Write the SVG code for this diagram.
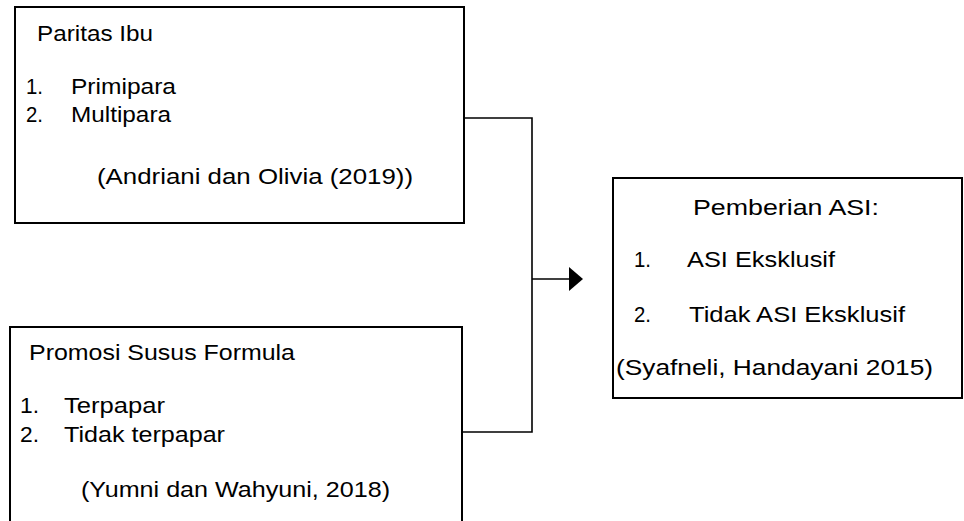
<svg xmlns="http://www.w3.org/2000/svg" width="964" height="521" viewBox="0 0 964 521">
<style>
.box{fill:#fff;stroke:#000;stroke-width:2}
.t{font-family:"Liberation Sans",Arial,sans-serif;font-size:22px;fill:#000}
.c{fill:none;stroke:#000;stroke-width:1.6}
</style>
<rect width="964" height="521" fill="#fff"/>
<g id="connectors">
<path class="c" d="M464,118 H532 V432 H462"/>
<path class="c" d="M532,279 H571"/>
<polygon points="569,267 583,279 569,291" fill="#000"/>
</g>
<g id="paritas-ibu">
<rect class="box" x="15" y="7" width="449" height="216"/>
<text class="t" x="37" y="41" textLength="116" lengthAdjust="spacingAndGlyphs">Paritas Ibu</text>
<text class="t" x="26" y="94" textLength="17" lengthAdjust="spacingAndGlyphs">1.</text>
<text class="t" x="71" y="94" textLength="105" lengthAdjust="spacingAndGlyphs">Primipara</text>
<text class="t" x="26" y="122" textLength="17" lengthAdjust="spacingAndGlyphs">2.</text>
<text class="t" x="71" y="122" textLength="100" lengthAdjust="spacingAndGlyphs">Multipara</text>
<text class="t" x="97" y="184" textLength="316" lengthAdjust="spacingAndGlyphs">(Andriani dan Olivia (2019))</text>
</g>
<g id="promosi-susu-formula">
<path class="box" d="M10,530 V327 H462 V530"/>
<text class="t" x="29" y="360" textLength="266" lengthAdjust="spacingAndGlyphs">Promosi Susus Formula</text>
<text class="t" x="20" y="413" textLength="19" lengthAdjust="spacingAndGlyphs">1.</text>
<text class="t" x="64" y="413" textLength="101" lengthAdjust="spacingAndGlyphs">Terpapar</text>
<text class="t" x="20" y="442" textLength="19" lengthAdjust="spacingAndGlyphs">2.</text>
<text class="t" x="64" y="442" textLength="161" lengthAdjust="spacingAndGlyphs">Tidak terpapar</text>
<text class="t" x="81" y="497" textLength="309" lengthAdjust="spacingAndGlyphs">(Yumni dan Wahyuni, 2018)</text>
</g>
<g id="pemberian-asi">
<rect class="box" x="613" y="178" width="349" height="220"/>
<text class="t" x="693" y="215" textLength="186" lengthAdjust="spacingAndGlyphs">Pemberian ASI:</text>
<text class="t" x="634" y="267" textLength="17" lengthAdjust="spacingAndGlyphs">1.</text>
<text class="t" x="687" y="267" textLength="148" lengthAdjust="spacingAndGlyphs">ASI Eksklusif</text>
<text class="t" x="634" y="322" textLength="17" lengthAdjust="spacingAndGlyphs">2.</text>
<text class="t" x="689" y="322" textLength="216" lengthAdjust="spacingAndGlyphs">Tidak ASI Eksklusif</text>
<text class="t" x="616" y="375" textLength="317" lengthAdjust="spacingAndGlyphs">(Syafneli, Handayani 2015)</text>
</g>
</svg>
